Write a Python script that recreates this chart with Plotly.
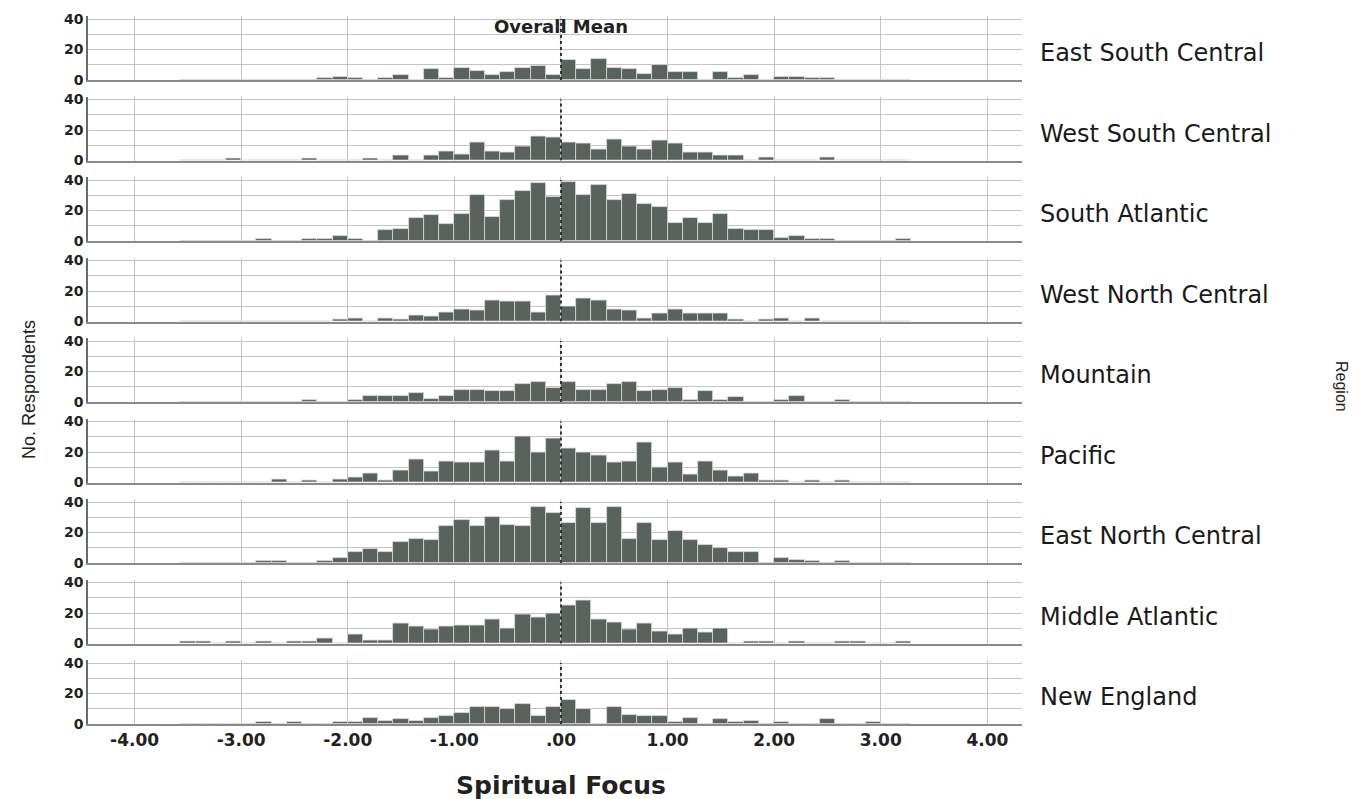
import plotly.graph_objects as go

# ---------------- data ----------------
regions = ["East South Central", "West South Central", "South Atlantic",
           "West North Central", "Mountain", "Pacific", "East North Central",
           "Middle Atlantic", "New England"]

BIN_WIDTH = 1 / 7          # histogram bin width (Spiritual Focus units)
FIRST_BIN_INDEX = -25      # first bin starts at FIRST_BIN_INDEX * BIN_WIDTH

east_south_central = [0, 0, 0, 0, 0,  0, 0, 0, 0, 1,  2, 1, 0, 1, 3,  0, 7, 1, 8, 6,
                      3, 5, 8, 9, 3,  13, 7, 14, 8, 7,  4, 10, 5, 5, 0,  5, 1, 3, 0, 2,
                      2, 1, 1, 0, 0,  0, 0, 0]
west_south_central = [0, 0, 0, 1, 0,  0, 0, 0, 1, 0,  0, 0, 1, 0, 3,  0, 3, 6, 4, 12,
                      6, 5, 9, 16, 15,  12, 11, 7, 14, 9,  7, 13, 11, 5, 5,  3, 3, 0, 2, 0,
                      0, 0, 2, 0, 0,  0, 0, 0]
south_atlantic = [0, 0, 0, 0, 0,  1, 0, 0, 1, 1,  3, 1, 0, 7, 8,  15, 17, 11, 18, 30,
                  16, 27, 33, 38, 29,  39, 30, 37, 27, 31,  24, 22, 12, 15, 12,  18, 8, 7, 7, 2,
                  3, 1, 1, 0, 0,  0, 0, 1]
west_north_central = [0, 0, 0, 0, 0,  0, 0, 0, 0, 0,  1, 2, 0, 2, 1,  4, 3, 6, 8, 7,
                      14, 13, 13, 6, 17,  10, 15, 14, 8, 7,  2, 5, 8, 5, 5,  5, 1, 0, 1, 2,
                      0, 2, 0, 0, 0,  0, 0, 0]
mountain = [0, 0, 0, 0, 0,  0, 0, 0, 1, 0,  0, 1, 4, 4, 4,  6, 2, 4, 8, 8,
            7, 7, 12, 13, 9,  13, 8, 8, 12, 13,  7, 8, 9, 1, 7,  1, 3, 0, 0, 1,
            4, 0, 0, 1, 0,  0, 0, 0]
pacific = [0, 0, 0, 0, 0,  0, 2, 0, 1, 0,  2, 3, 6, 1, 8,  15, 7, 14, 13, 13,
           21, 14, 30, 20, 29,  22, 20, 18, 13, 14,  26, 10, 13, 5, 14,  8, 4, 6, 1, 1,
           0, 1, 0, 1, 0,  0, 0, 0]
east_north_central = [0, 0, 0, 0, 0,  1, 1, 0, 0, 1,  3, 7, 9, 7, 14,  16, 15, 24, 28, 24,
                      30, 25, 24, 37, 33,  26, 36, 26, 37, 16,  26, 15, 21, 15, 12,  10, 7, 7, 0, 3,
                      2, 1, 0, 1, 0,  0, 0, 0]
middle_atlantic = [1, 1, 0, 1, 0,  1, 0, 1, 1, 3,  0, 6, 2, 2, 13,  11, 9, 11, 12, 12,
                   16, 10, 19, 17, 20,  25, 28, 16, 14, 9,  13, 8, 6, 10, 7,  10, 0, 1, 1, 0,
                   1, 0, 0, 1, 1,  0, 0, 1]
new_england = [0, 0, 0, 0, 0,  1, 0, 1, 0, 0,  1, 1, 4, 2, 3,  2, 4, 5, 7, 11,
               11, 10, 13, 5, 11,  16, 10, 0, 11, 6,  5, 5, 1, 4, 0,  3, 1, 2, 0, 1,
               0, 0, 3, 0, 0,  1, 0, 0]

counts = [east_south_central, west_south_central, south_atlantic, west_north_central,
          mountain, pacific, east_north_central, middle_atlantic, new_england]

overall_mean = 0.0
x_tick_vals = [-4, -3, -2, -1, 0, 1, 2, 3, 4]
x_tick_text = ["-4.00", "-3.00", "-2.00", "-1.00", ".00", "1.00", "2.00", "3.00", "4.00"]
y_tick_vals = [0, 10, 20, 30, 40]
y_tick_text = ["0", "", "20", "", "40"]

# ---------------- layout geometry (page pixels; body margin removed by post_script) ----------------
W, H = 1357, 799
P_LEFT, P_RIGHT, P_TOP, P_BOTTOM = 88, 1022, 16, 724   # plot area in page pixels
L, R, T, B = P_LEFT, W - P_RIGHT, P_TOP, H - P_BOTTOM
plot_w = W - L - R
plot_h = H - T - B
pitch = 80.5
panel_h = 64


def py_to_paper(py):      # page pixel y -> paper coordinate
    return (P_BOTTOM - py) / plot_h


def px_to_paper(px):      # page pixel x -> paper coordinate
    return (px - P_LEFT) / plot_w


bin_centers = [(FIRST_BIN_INDEX + i + 0.5) * BIN_WIDTH for i in range(len(east_south_central))]

TICK_FONT = "DejaVu Sans, Verdana, sans-serif"

fig = go.Figure()
layout = dict(
    width=W, height=H,
    margin=dict(l=L, r=R, t=T, b=B, autoexpand=False),
    paper_bgcolor="white", plot_bgcolor="white",
    showlegend=False, bargap=0,
    font=dict(family="DejaVu Sans, sans-serif", color="#222"),
)
shapes = []
annotations = []

n = len(regions)
for i, (name, vals) in enumerate(zip(regions, counts)):
    idx = i + 1
    xa = "x" if idx == 1 else f"x{idx}"
    ya = "y" if idx == 1 else f"y{idx}"
    top_px = P_TOP + pitch * i
    bot_px = top_px + panel_h
    fig.add_trace(go.Bar(
        x=bin_centers, y=vals, width=BIN_WIDTH,
        xaxis=xa, yaxis=ya,
        marker=dict(color="#59625d", line=dict(color="#d8d8d8", width=0.8)),
        hoverinfo="x+y",
    ))
    last = (i == n - 1)
    layout["xaxis" if idx == 1 else f"xaxis{idx}"] = dict(
        domain=[0, 1], anchor=ya, range=[-4.437, 4.325],
        tickvals=x_tick_vals, ticktext=x_tick_text,
        showticklabels=last, ticks="",
        tickfont=dict(size=17, color="#222", family=TICK_FONT, weight="bold"),
        showgrid=True, gridcolor="#c4c4c4", gridwidth=1,
        showline=True, linecolor="#8a8a8a", linewidth=1.5,
        zeroline=False, fixedrange=True, automargin=False,
        **({} if idx == 1 else {"matches": "x"}),
    )
    layout["yaxis" if idx == 1 else f"yaxis{idx}"] = dict(
        domain=[py_to_paper(bot_px), py_to_paper(top_px)], anchor=xa,
        range=[0, 42], tickvals=y_tick_vals, ticktext=y_tick_text,
        tickfont=dict(size=14, color="#222", family=TICK_FONT, weight="bold"),
        ticks="", showgrid=True, gridcolor="#c4c4c4", gridwidth=1,
        showline=True, linecolor="#6a6a6a", linewidth=1.5,
        zeroline=False, fixedrange=True, automargin=False,
    )
    shapes.append(dict(type="line", xref=xa, yref=ya, x0=overall_mean, x1=overall_mean,
                       y0=0, y1=40, line=dict(color="#333", width=2, dash="dot")))
    annotations.append(dict(xref="paper", yref="paper", x=1.0, xanchor="left", xshift=16,
                            y=py_to_paper(top_px + 37), yanchor="middle", text=name,
                            showarrow=False,
                            font=dict(size=24, color="#1a1a1a", family="DejaVu Sans, sans-serif")))

annotations.append(dict(xref="paper", yref="paper", x=px_to_paper(561),
                        y=py_to_paper(26), yanchor="middle", text="Overall Mean",
                        showarrow=False,
                        font=dict(size=18, color="#222", family=TICK_FONT, weight="bold")))
annotations.append(dict(xref="paper", yref="paper", x=px_to_paper(561),
                        y=py_to_paper(785), yanchor="middle", text="Spiritual Focus",
                        showarrow=False,
                        font=dict(size=25, color="#222", family=TICK_FONT, weight="bold")))
annotations.append(dict(xref="paper", yref="paper", x=px_to_paper(29),
                        y=py_to_paper(389), yanchor="middle", xanchor="center",
                        text="No. Respondents", textangle=-90, showarrow=False,
                        font=dict(size=18, color="#222", family="Liberation Sans, Arial, sans-serif")))
annotations.append(dict(xref="paper", yref="paper", x=px_to_paper(1342),
                        y=py_to_paper(386), yanchor="middle", xanchor="center",
                        text="Region", textangle=90, showarrow=False,
                        font=dict(size=16, color="#222", family="Liberation Sans, Arial, sans-serif")))

layout["shapes"] = shapes
layout["annotations"] = annotations
fig.update_layout(**layout)
fig.write_html("out.html",
               config={"displayModeBar": False},
               post_script="document.body.style.margin='0';document.body.style.overflow='hidden';")
